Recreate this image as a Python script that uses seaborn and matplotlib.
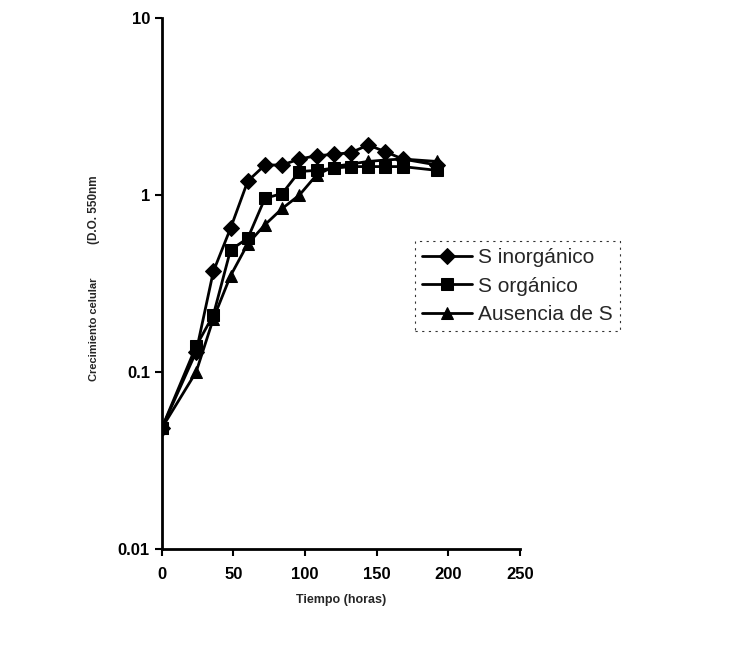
import matplotlib
matplotlib.use("Agg")
import matplotlib.pyplot as plt
import seaborn as sns
import pandas as pd

# horas de muestreo
tiempo = [0, 24, 36, 48, 60, 72, 84, 96, 108, 120, 132, 144, 156, 168, 192]

# D.O. 550nm
s_inorganico = [0.048, 0.13, 0.37, 0.65, 1.2, 1.48, 1.48, 1.6, 1.67, 1.7, 1.74, 1.92, 1.76, 1.6, 1.48]
s_organico = [0.048, 0.14, 0.21, 0.49, 0.57, 0.96, 1.02, 1.36, 1.38, 1.42, 1.45, 1.45, 1.45, 1.45, 1.38]
ausencia_s = [0.048, 0.10, 0.20, 0.35, 0.53, 0.68, 0.84, 1.0, 1.3, 1.45, 1.5, 1.55, 1.58, 1.6, 1.55]

series = ["S inorgánico", "S orgánico", "Ausencia de S"]
valores = [s_inorganico, s_organico, ausencia_s]

df = pd.concat(
    [pd.DataFrame({"Tiempo": tiempo, "DO": v, "serie": s}) for s, v in zip(series, valores)],
    ignore_index=True,
)

sns.set_theme(style="ticks")
plt.rcParams["font.family"] = ["Liberation Sans", "DejaVu Sans"]

fig = plt.figure(figsize=(7.42, 6.54), dpi=100)
ax = fig.add_axes([0.218, 0.161, 0.483, 0.811])

sns.lineplot(
    data=df, x="Tiempo", y="DO", hue="serie", style="serie",
    palette=["black"] * 3, markers={"S inorgánico": "D", "S orgánico": "s", "Ausencia de S": "^"},
    dashes=False, markersize=8, linewidth=2, markeredgecolor="black", ax=ax,
)

ax.set_yscale("log")
ax.set_ylim(0.01, 10)
ax.set_xlim(0, 250)
ax.set_xticks([0, 50, 100, 150, 200, 250])
ax.set_yticks([0.01, 0.1, 1, 10])
ax.set_yticklabels(["0.01", "0.1", "1", "10"])
ax.minorticks_off()
ax.tick_params(axis="both", direction="out", length=5, width=1.5, labelsize=12, colors="black")
ax.tick_params(axis="x", pad=8)
for lab in ax.get_xticklabels() + ax.get_yticklabels():
    lab.set_fontweight("bold")
ax.spines["top"].set_visible(False)
ax.spines["right"].set_visible(False)
for sp in ["left", "bottom"]:
    ax.spines[sp].set_linewidth(2)
    ax.spines[sp].set_color("black")

ax.set_xlabel("Tiempo (horas)", fontsize=9, fontweight="bold", labelpad=9)
ax.set_ylabel("")
fig.text(94 / 742, 1 - 329 / 654, "Crecimiento celular", rotation=90, ha="center", va="center",
         fontsize=8, fontweight="bold")
fig.text(94 / 742, 1 - 210 / 654, "(D.O. 550nm", rotation=90, ha="center", va="center",
         fontsize=8.5, fontweight="bold")

leg = ax.legend(
    loc="upper left", bbox_to_anchor=(0.707, 0.58), frameon=True, fontsize=15,
    handlelength=2.4, handletextpad=0.25, labelspacing=0.45, borderpad=0.35,
    borderaxespad=0, fancybox=False,
)
leg.get_frame().set_edgecolor("black")
leg.get_frame().set_linestyle((0, (2, 4)))
leg.get_frame().set_linewidth(0.8)
leg.set_title(None)

fig.savefig("out.png", dpi=100)
